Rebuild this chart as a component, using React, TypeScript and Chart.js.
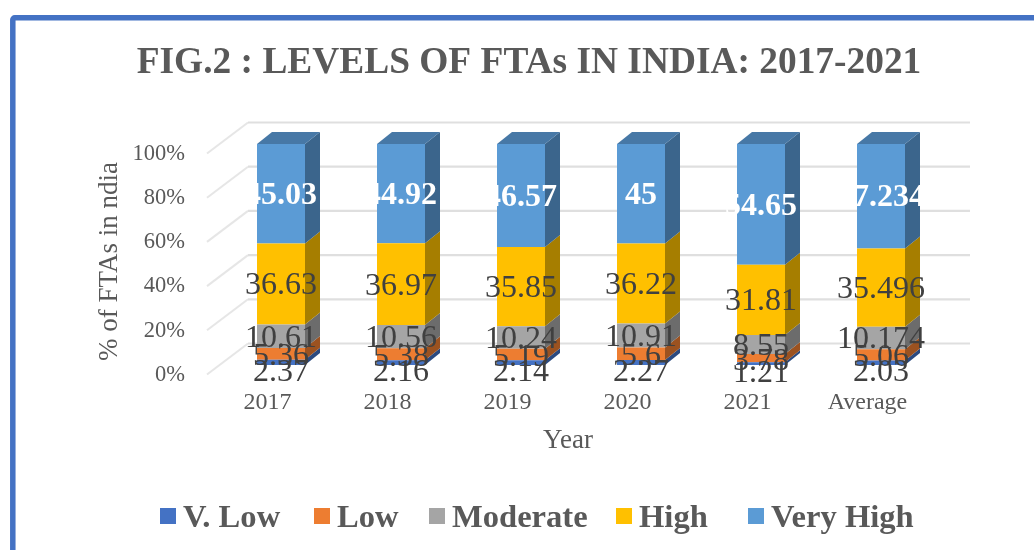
import React, { useEffect, useRef } from "react";
import { Chart, registerables } from "chart.js";

Chart.register(...registerables);

const categories = ["2017", "2018", "2019", "2020", "2021", "Average"];
const vLow = [2.37, 2.16, 2.14, 2.27, 1.21, 2.03];
const low = [5.36, 5.38, 5.19, 5.6, 3.78, 5.06];
const moderate = [10.61, 10.56, 10.24, 10.91, 8.55, 10.174];
const high = [36.63, 36.97, 35.85, 36.22, 31.81, 35.496];
const veryHigh = [45.03, 44.92, 46.57, 45, 54.65, 47.234];
const seriesNames = ["V. Low", "Low", "Moderate", "High", "Very High"];
const seriesValues = [vLow, low, moderate, high, veryHigh];
const frontColors = ["#4472C4", "#ED7D31", "#A5A5A5", "#FFC000", "#5B9BD5"];
const sideColors = ["#2B4A80", "#9C5220", "#6C6C6C", "#A67E00", "#3B658C"];
const topColor = "#4778A6";
const legendBoxX = [160, 314, 429, 616, 748];

const SERIF = '"Liberation Serif", serif';
const TEXT = "#595959";
const LABEL = "#404040";
const DEPTH_X = 15;
const DEPTH_Y = 12;

const scene = {
  id: "scene",
  beforeDraw(chart: any) {
    const { ctx } = chart;
    const y = chart.scales.y;
    ctx.save();
    ctx.fillStyle = "#fff";
    ctx.fillRect(0, 0, chart.width, chart.height);
    ctx.strokeStyle = "#4472C4";
    ctx.lineWidth = 5.5;
    ctx.beginPath();
    ctx.moveTo(12.8, chart.height + 5);
    ctx.lineTo(12.8, 20);
    ctx.arcTo(12.8, 17.8, 15, 17.8, 2);
    ctx.lineTo(chart.width + 5, 17.8);
    ctx.stroke();
    for (const t of y.ticks) {
      const py = y.getPixelForValue(t.value);
      ctx.strokeStyle = "#E6E6E6";
      ctx.lineWidth = 2;
      ctx.beginPath();
      ctx.moveTo(207, py + 9.5);
      ctx.lineTo(248, py - 21.5);
      ctx.stroke();
      ctx.strokeStyle = "#DFDFDF";
      ctx.lineWidth = 2.2;
      ctx.beginPath();
      ctx.moveTo(248, py - 21.5);
      ctx.lineTo(970, py - 21.5);
      ctx.stroke();
    }
    ctx.restore();
  },
  afterDatasetsDraw(chart: any) {
    const { ctx } = chart;
    ctx.save();
    chart.data.datasets.forEach((ds: any, i: number) => {
      const meta = chart.getDatasetMeta(i);
      meta.data.forEach((bar: any) => {
        const right = bar.x + bar.width / 2;
        const left = bar.x - bar.width / 2;
        ctx.fillStyle = sideColors[i];
        ctx.beginPath();
        ctx.moveTo(right, bar.y);
        ctx.lineTo(right + DEPTH_X, bar.y - DEPTH_Y);
        ctx.lineTo(right + DEPTH_X, bar.base - DEPTH_Y);
        ctx.lineTo(right, bar.base);
        ctx.closePath();
        ctx.fill();
        if (i === chart.data.datasets.length - 1) {
          ctx.fillStyle = topColor;
          ctx.beginPath();
          ctx.moveTo(left, bar.y);
          ctx.lineTo(left + DEPTH_X, bar.y - DEPTH_Y);
          ctx.lineTo(right + DEPTH_X, bar.y - DEPTH_Y);
          ctx.lineTo(right, bar.y);
          ctx.closePath();
          ctx.fill();
        }
      });
    });
    ctx.textAlign = "center";
    ctx.textBaseline = "middle";
    chart.data.datasets.forEach((ds: any, i: number) => {
      const meta = chart.getDatasetMeta(i);
      const last = i === chart.data.datasets.length - 1;
      ctx.font = `${last ? "bold " : ""}32px ${SERIF}`;
      ctx.fillStyle = last ? "#FFFFFF" : LABEL;
      const nudge = i === 0 ? 10 : i === 1 ? 3 : 2;
      meta.data.forEach((bar: any, j: number) => {
        ctx.fillText(String(ds.data[j]), bar.x, (bar.y + bar.base) / 2 + nudge);
      });
    });
    // axis titles
    ctx.textBaseline = "alphabetic";
    ctx.fillStyle = TEXT;
    ctx.font = `27px ${SERIF}`;
    ctx.fillText("Year", 568, 448);
    ctx.translate(116.5, 261.5);
    ctx.rotate(-Math.PI / 2);
    ctx.fillText("% of FTAs in ndia", 0, 0);
    ctx.setTransform(1, 0, 0, 1, 0, 0);
    // legend
    ctx.textAlign = "left";
    ctx.font = `bold 32.6px ${SERIF}`;
    seriesNames.forEach((name, i) => {
      ctx.fillStyle = frontColors[i];
      ctx.fillRect(legendBoxX[i], 508, 16, 16);
      ctx.fillStyle = TEXT;
      ctx.fillText(name, legendBoxX[i] + 23, 526.5);
    });
    ctx.restore();
  },
};

export default function App() {
  const ref = useRef<HTMLCanvasElement>(null);
  useEffect(() => {
    const chart = new Chart(ref.current!, {
      type: "bar",
      data: {
        labels: categories,
        datasets: seriesNames.map((label, i) => ({
          label,
          data: seriesValues[i],
          backgroundColor: frontColors[i],
          barPercentage: 0.4,
          categoryPercentage: 1,
        })),
      },
      options: {
        responsive: false,
        animation: false,
        layout: { padding: { left: 117, right: 93, top: 0, bottom: 0 } },
        plugins: {
          legend: { display: false },
          tooltip: { enabled: false },
          title: {
            display: true,
            text: "FIG.2 : LEVELS OF FTAs IN INDIA: 2017-2021",
            color: TEXT,
            font: { family: SERIF, size: 37.4, weight: "bold" },
            padding: { top: 41, bottom: 58.1 },
          },
        },
        scales: {
          x: {
            stacked: true,
            grid: { display: false },
            border: { display: false },
            ticks: {
              color: TEXT,
              font: { family: SERIF, size: 24 },
              labelOffset: -13.5,
              padding: 15,
              maxRotation: 0,
              autoSkip: false,
            },
            afterFit: (s: any) => { s.height = 185; },
          },
          y: {
            stacked: true,
            min: 0,
            max: 100,
            grid: { display: false, drawTicks: false },
            border: { display: false },
            ticks: {
              stepSize: 20,
              color: TEXT,
              font: { family: SERIF, size: 22.5 },
              padding: 36,
              labelOffset: 10,
              callback: (v: any) => `${v}%`,
            },
            afterFit: (s: any) => { s.width = 104; },
          },
        },
      } as any,
      plugins: [scene],
    });
    return () => chart.destroy();
  }, []);
  return (
    <canvas
      ref={ref}
      width={1034}
      height={550}
      style={{ position: "fixed", left: 0, top: 0, display: "block" }}
    />
  );
}
